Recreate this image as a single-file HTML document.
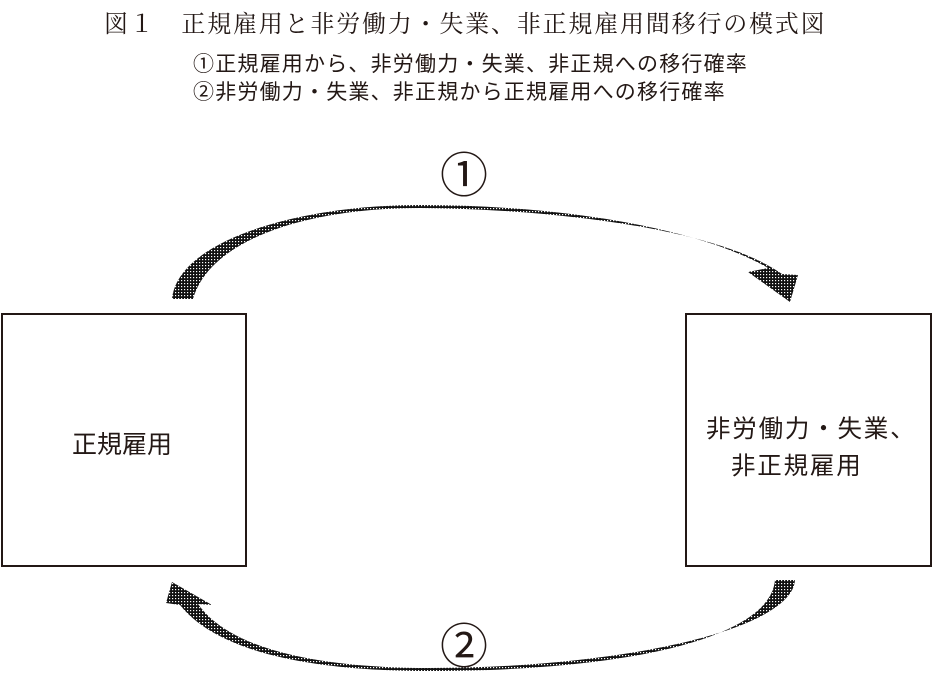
<!DOCTYPE html>
<html><head><meta charset="utf-8"><style>
body{margin:0;background:#fff;width:933px;height:676px;position:relative;overflow:hidden;font-family:"Liberation Sans","Noto Sans CJK JP",sans-serif;color:#231815}
.t{position:absolute;white-space:nowrap}
.box{position:absolute;border:2px solid #231815;box-sizing:border-box;background:#fff}
</style></head><body>
<div class="t" style="left:104px;top:4px;font-size:24px;letter-spacing:1.8px;font-family:'Liberation Serif','Noto Serif CJK SC',serif;">図１　正規雇用と非労働力・失業、非正規雇用間移行の模式図</div>
<div class="t" style="left:193px;top:48px;font-size:21px;letter-spacing:1.2px;">①正規雇用から、非労働力・失業、非正規への移行確率</div>
<div class="t" style="left:193px;top:76px;font-size:21px;letter-spacing:1.2px;">②非労働力・失業、非正規から正規雇用への移行確率</div>
<div class="box" style="left:1px;top:313px;width:246px;height:254px;"></div>
<div class="box" style="left:685px;top:313px;width:247px;height:254px;"></div>
<div class="t" style="left:72px;top:425px;font-size:25px;">正規雇用</div>
<div class="t" style="left:706px;top:410px;font-size:24.5px;letter-spacing:1.8px;">非労働力・失業、</div>
<div class="t" style="left:731px;top:447px;font-size:24.5px;letter-spacing:1.8px;">非正規雇用</div>
<div class="t" style="left:440px;top:136px;font-size:48px;">①</div>
<div class="t" style="left:440px;top:607px;font-size:48px;">②</div>
<svg width="933" height="676" style="position:absolute;left:0;top:0">
<defs><pattern id="d" width="3" height="3" patternUnits="userSpaceOnUse"><rect width="3" height="3" fill="#111"/><rect x="1" y="1" width="1.2" height="1.2" fill="#fff"/></pattern></defs>
<path fill="url(#d)" d="M172,299 C178,240 300,205 420,205 C560,205 700,228 768,268 L748,272 L790,302 L798,275 L782,274 C720,230 560,209 420,208 C305,208 210,240 193,299 Z"/>
<path fill="url(#d)" d="M795,580 C792,630 620,668 430,668 C320,668 230,650 198,604 L212,605 L172,582 L166,603 L180,605 C220,655 320,671 430,671 C620,671 770,640 775,580 Z"/>
</svg>
</body></html>
